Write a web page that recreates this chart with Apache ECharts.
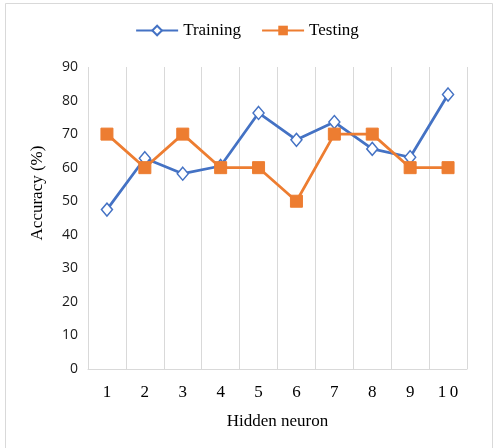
<!DOCTYPE html>
<html>
<head>
<meta charset="utf-8">
<script src="https://cdn.jsdelivr.net/npm/echarts@6/dist/echarts.min.js"></script>
<style>
  html, body { margin: 0; padding: 0; background: #fff; }
  #chart { width: 494px; height: 448px; }
</style>
</head>
<body>
<div id="chart"></div>
<script>
// hidden neurons 1..10
var neurons = ['1', '2', '3', '4', '5', '6', '7', '8', '9', '10'];
var training = [47.5, 62.8, 58.2, 60.5, 76.3, 68.3, 73.6, 65.6, 63.1, 81.8];
var testing = [70, 60, 70, 60, 60, 50, 70, 70, 60, 60];
var yTicks = [0, 10, 20, 30, 40, 50, 60, 70, 80, 90];

var chart = echarts.init(document.getElementById('chart'));

var serif = 'Liberation Serif, Times New Roman, serif';

var option = {
  animation: false,
  backgroundColor: '#fff',
  graphic: [{
    type: 'rect',
    left: 3, top: 1,
    shape: { width: 487, height: 445 },
    style: { fill: 'none', stroke: '#d9d9d9', lineWidth: 1 },
    silent: true
  }],
  legend: {
    top: 17,
    left: 'center',
    itemWidth: 42,
    itemHeight: 12,
    itemGap: 20,
    textStyle: { fontFamily: serif, fontSize: 17, color: '#000' },
    data: ['Training', 'Testing']
  },
  grid: { left: 88, right: 27, top: 67, bottom: 79 },
  xAxis: {
    type: 'category',
    data: neurons,
    boundaryGap: true,
    name: 'Hidden neuron',
    nameLocation: 'middle',
    nameGap: 44,
    nameTextStyle: { fontFamily: serif, fontSize: 17, color: '#000' },
    axisLine: { lineStyle: { color: '#d9d9d9' } },
    axisTick: { show: false },
    axisLabel: {
      fontFamily: serif, fontSize: 17, color: '#000', margin: 15,
      formatter: function (v) { return v.split('').join('\u2009'); }
    },
    splitLine: { show: true, lineStyle: { color: '#d9d9d9', width: 1 } }
  },
  yAxis: {
    type: 'value',
    min: yTicks[0],
    max: yTicks[yTicks.length - 1],
    interval: 10,
    name: 'Accuracy (%)',
    nameLocation: 'middle',
    nameGap: 42,
    nameTextStyle: { fontFamily: serif, fontSize: 17, color: '#000', padding: [0, 0, 0, 50] },
    axisLine: { show: false },
    axisTick: { show: false },
    axisLabel: { fontFamily: 'Open Sans, Noto Sans, sans-serif', fontSize: 14, color: '#1a1a1a', margin: 10 },
    splitLine: { show: false }
  },
  series: [
    {
      name: 'Training',
      type: 'line',
      data: training,
      symbol: 'diamond',
      symbolSize: [11, 13],
      z: 2,
      lineStyle: { color: '#4472C4', width: 2.75 },
      itemStyle: { color: '#fff', borderColor: '#4472C4', borderWidth: 1.5 }
    },
    {
      name: 'Testing',
      type: 'line',
      data: testing,
      symbol: 'rect',
      symbolSize: 12,
      z: 3,
      lineStyle: { color: '#ED7D31', width: 2.75 },
      itemStyle: { color: '#ED7D31', borderColor: '#ED7D31' }
    }
  ]
};

chart.setOption(option);
</script>
</body>
</html>
